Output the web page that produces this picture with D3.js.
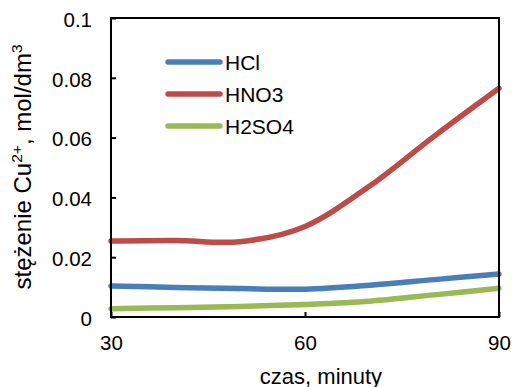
<!DOCTYPE html>
<html>
<head>
<meta charset="utf-8">
<script src="https://cdn.jsdelivr.net/npm/d3@7/dist/d3.min.js"></script>
<style>
  body { margin: 0; background: #fff; }
  svg text { font-family: "Liberation Sans", Arial, sans-serif; fill: #000; }
</style>
</head>
<body>
<svg id="chart" width="512" height="387"></svg>
<script>
// czas (minuty)
const times = [30, 40, 50, 60, 70, 80, 90];
const seriesNames = ["HCl", "HNO3", "H2SO4"];
const hcl = [0.0104, 0.0099, 0.0095, 0.0093, 0.0106, 0.0125, 0.0144];
const hno3 = [0.0254, 0.0256, 0.0252, 0.0303, 0.0438, 0.0605, 0.0765];
const h2so4 = [0.0028, 0.0031, 0.0035, 0.0042, 0.0053, 0.0074, 0.0096];
const xTicks = [30, 60, 90];
const yTicks = [0, 0.02, 0.04, 0.06, 0.08, 0.1];
const colors = ["#4a7ebb", "#be4b48", "#98b954"];

const margin = { left: 111, right: 13, top: 18, bottom: 70 };
const width = 512 - margin.left - margin.right;
const height = 387 - margin.top - margin.bottom;

const svg = d3.select("#chart");
const g = svg.append("g").attr("transform", "translate(" + margin.left + "," + margin.top + ")");

const x = d3.scaleLinear().domain([30, 90]).range([0, width]);
const y = d3.scaleLinear().domain([0, 0.1]).range([height, 0]);

// smoothed lines
const line = d3.line()
  .x((d, i) => x(times[i]))
  .y(d => y(d))
  .curve(d3.curveCardinal.tension(0));

[hcl, hno3, h2so4].forEach((s, i) => {
  g.append("path")
    .attr("d", line(s))
    .attr("fill", "none")
    .attr("stroke", colors[i])
    .attr("stroke-width", 5.5)
    .attr("stroke-linecap", "round");
});

// frame
g.append("rect")
  .attr("width", width)
  .attr("height", height)
  .attr("fill", "none")
  .attr("stroke", "#000")
  .attr("stroke-width", 2);

// axes, ticks pointing inward
const yAxis = g.append("g").call(d3.axisLeft(y).tickValues(yTicks).tickSize(-5).tickPadding(19)
  .tickFormat(d => d === 0 ? "0" : String(+d.toFixed(2))));
yAxis.select(".domain").remove();
yAxis.selectAll("line").attr("stroke", "#000").attr("stroke-width", 2);
yAxis.selectAll("text")
  .attr("font-size", 20.5)
  .attr("dy", "0.4em");

const xAxis = g.append("g").attr("transform", "translate(0," + height + ")")
  .call(d3.axisBottom(x).tickValues(xTicks).tickSize(-5));
xAxis.select(".domain").remove();
xAxis.selectAll("line").attr("stroke", "#000").attr("stroke-width", 2);
xAxis.selectAll("text")
  .attr("font-size", 20.5)
  .attr("y", 33)
  .attr("dy", 0);

// axis titles
svg.append("text")
  .attr("x", 321)
  .attr("y", 384)
  .attr("text-anchor", "middle")
  .attr("font-size", 22)
  .text("czas, minuty");

const yt = svg.append("text")
  .attr("transform", "translate(31,167) rotate(-90)")
  .attr("text-anchor", "middle")
  .attr("font-size", 24);
yt.append("tspan").text("stężenie Cu");
yt.append("tspan").attr("font-size", 15.5).attr("dy", -9).text("2+");
yt.append("tspan").attr("dy", 9).text(", mol/dm");
yt.append("tspan").attr("font-size", 15.5).attr("dy", -9).text("3");

// legend
const legend = svg.append("g");
seriesNames.forEach((name, i) => {
  const ly = 62 + i * 32;
  legend.append("line")
    .attr("x1", 168).attr("x2", 220)
    .attr("y1", ly).attr("y2", ly)
    .attr("stroke", colors[i])
    .attr("stroke-width", 5.5)
    .attr("stroke-linecap", "round");
  legend.append("text")
    .attr("x", 225)
    .attr("y", ly)
    .attr("dy", "0.36em")
    .attr("font-size", 21)
    .text(name);
});
</script>
</body>
</html>
